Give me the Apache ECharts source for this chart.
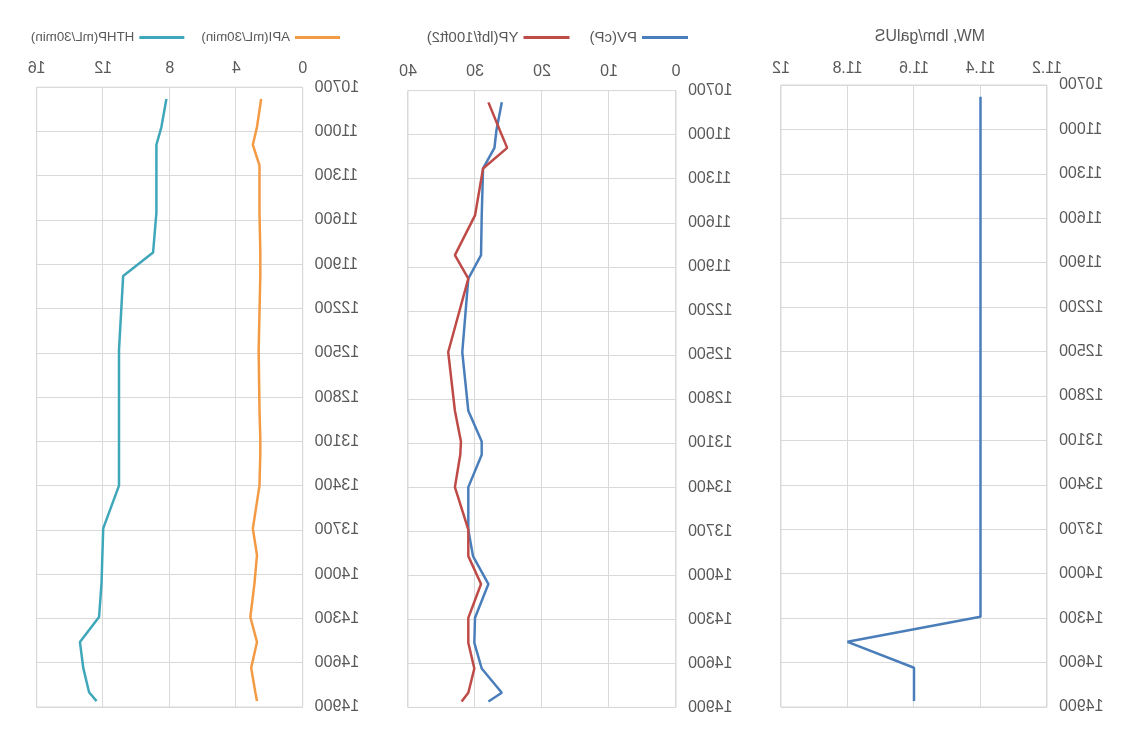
<!DOCTYPE html>
<html>
<head>
<meta charset="utf-8">
<title>Mud properties vs depth</title>
<script src="https://cdn.jsdelivr.net/npm/echarts@6/dist/echarts.min.js"></script>
<style>
  html, body { margin: 0; padding: 0; background: #fff; }
  /* the reference is a mirrored picture, so the whole chart is flipped */
  #chart { width: 1130px; height: 730px; transform: scaleX(-1); }
</style>
</head>
<body>
<div id="chart"></div>
<script>
// depth of each sample (ft)
const depths = [10780, 10970, 11090, 11230, 11550, 11820, 11980, 12480, 12880, 13090,
                13180, 13400, 13690, 13870, 14060, 14290, 14460, 14635, 14800, 14860];
// fluid loss, mL/30min
const apiLoss = [2.5, 2.75, 3.0, 2.6, 2.6, 2.55, 2.55, 2.65, 2.6, 2.55,
                 2.55, 2.6, 3.0, 2.75, 2.9, 3.15, 2.75, 3.1, 2.85, 2.75];
const hthpLoss = [8.2, 8.5, 8.8, 8.8, 8.8, 9.0, 10.8, 11.05, 11.05, 11.05,
                  11.05, 11.05, 12.0, 12.05, 12.1, 12.25, 13.4, 13.2, 12.85, 12.4];
// rheology
const pv = [26.0, 26.8, 27.1, 28.8, 29.0, 29.1, 31.0, 31.9, 31.0, 29.0,
            29.0, 31.0, 31.0, 30.3, 28.0, 30.0, 30.1, 29.0, 26.0, 28.0];
const yp = [28.0, 26.3, 25.2, 28.8, 30.0, 33.0, 31.0, 34.0, 33.0, 32.1,
            32.2, 33.0, 31.0, 31.0, 29.1, 31.0, 31.0, 30.1, 31.0, 32.0];
// mud weight, lbm/galUS
const mw = [11.4, 11.4, 11.4, 11.4, 11.4, 11.4, 11.4, 11.4, 11.4, 11.4,
            11.4, 11.4, 11.4, 11.4, 11.4, 11.4, 11.8, 11.6, 11.6, 11.6];

// depth axis runs 10700..14900 every 300; counted from the top depth
const topDepth = 10700;
const bottomDepth = 14900;
const depthStep = 300;

const labelColor = '#595959';
const gridColor = '#d9d9d9';
const fontFamily = '"Liberation Sans", Arial, sans-serif';

const pairs = vals => vals.map((v, i) => [v, depths[i] - topDepth]);

const chart = echarts.init(document.getElementById('chart'));

const makeGrid = (left, right, top, bottom) => ({
  left, right, top, bottom,
  show: true, borderColor: gridColor, borderWidth: 1, containLabel: false
});

const makeX = (gridIndex, min, max, interval, margin) => ({
  type: 'value', gridIndex, position: 'top', min, max, interval,
  axisLine: { show: false },
  axisTick: { show: false },
  axisLabel: {
    color: labelColor, fontSize: 16, fontFamily, margin,
    formatter: v => String(Number(v.toFixed(1)))
  },
  splitLine: { show: true, lineStyle: { color: gridColor, width: 1 } }
});

const makeY = gridIndex => ({
  type: 'value', gridIndex, inverse: true,
  min: 0, max: bottomDepth - topDepth, interval: depthStep,
  axisLine: { show: false },
  axisTick: { show: false },
  axisLabel: {
    color: labelColor, fontSize: 16, fontFamily, margin: 12,
    formatter: v => String(v + topDepth)
  },
  splitLine: { show: true, lineStyle: { color: gridColor, width: 1 } }
});

const makeLine = (name, idx, data, color) => ({
  name, type: 'line', xAxisIndex: idx, yAxisIndex: idx,
  data: pairs(data), symbol: 'none', smooth: false,
  lineStyle: { color, width: 2.5 }, itemStyle: { color },
  animation: false
});

chart.setOption({
  backgroundColor: '#fff',
  animation: false,
  title: {
    text: 'MW, lbm/galUS',
    left: 140, top: 24,
    textStyle: { color: labelColor, fontSize: 16, fontWeight: 'normal', fontFamily }
  },
  legend: [
    {
      data: ['API(mL/30min)', 'HTHP(mL/30min)'],
      left: 785, top: 26, itemWidth: 45, itemHeight: 3, itemGap: 17,
      icon: 'rect', textStyle: { color: labelColor, fontSize: 13.3, fontFamily }
    },
    {
      data: ['PV(cP)', 'YP(lbf/100ft2)'],
      left: 437, top: 25, itemWidth: 46, itemHeight: 3, itemGap: 20,
      icon: 'rect', textStyle: { color: labelColor, fontSize: 15, fontFamily }
    }
  ],
  grid: [
    makeGrid(83, 781, 85, 23),
    makeGrid(454, 408, 90.6, 22.6),
    makeGrid(827.3, 36.7, 87.2, 23)
  ],
  xAxis: [
    makeX(0, 11.2, 12, 0.2, 8),
    makeX(1, 0, 40, 10, 11),
    makeX(2, 0, 16, 4, 11)
  ],
  yAxis: [makeY(0), makeY(1), makeY(2)],
  series: [
    makeLine('MW', 0, mw, '#4a7ebb'),
    makeLine('PV(cP)', 1, pv, '#4a7ebb'),
    makeLine('YP(lbf/100ft2)', 1, yp, '#be4b48'),
    makeLine('API(mL/30min)', 2, apiLoss, '#f39a45'),
    makeLine('HTHP(mL/30min)', 2, hthpLoss, '#3fa7ba')
  ]
});
</script>
</body>
</html>
